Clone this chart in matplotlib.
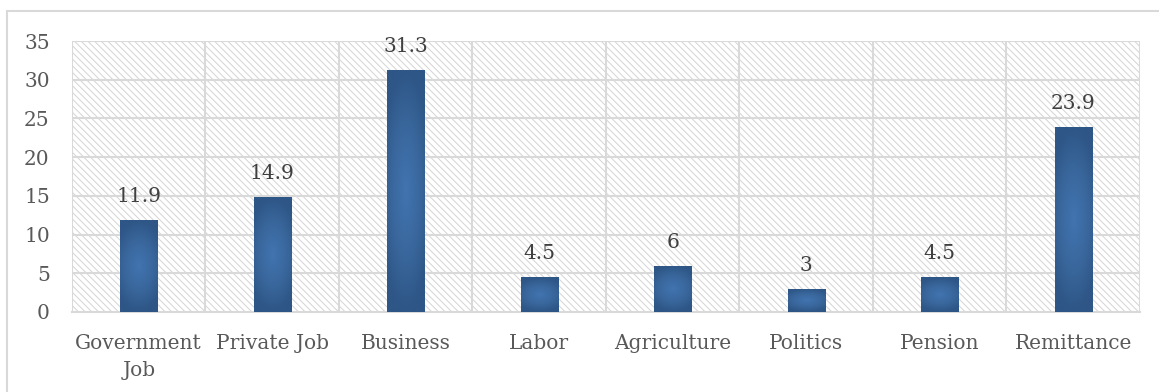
import matplotlib.pyplot as plt
import matplotlib.patches as mpatches
from matplotlib.colors import LinearSegmentedColormap
import numpy as np

# Source of income shares (%)
categories = ['Government\nJob', 'Private Job', 'Business', 'Labor',
              'Agriculture', 'Politics', 'Pension', 'Remittance']
values = [11.9, 14.9, 31.3, 4.5, 6, 3, 4.5, 23.9]
value_labels = ['11.9', '14.9', '31.3', '4.5', '6', '3', '4.5', '23.9']

plt.rcParams['font.family'] = 'DejaVu Serif'
plt.rcParams['hatch.color'] = '#d4d4d4'
plt.rcParams['hatch.linewidth'] = 0.7

fig = plt.figure(figsize=(11.59, 3.92), dpi=100)
ax = fig.add_axes([0.0621, 0.2041, 0.9215, 0.6913])

# Outer chart border
fig.patches.append(mpatches.Rectangle((7 / 1159, -0.05), 1.1, 1 - 11 / 392 + 0.05,
                                      transform=fig.transFigure, fill=False,
                                      edgecolor='#d9d9d9', linewidth=1.5))

# Hatched plot background
ax.set_facecolor('white')
ax.add_patch(mpatches.Rectangle((0, 0), 1, 1, transform=ax.transAxes,
                                facecolor='white', hatch='\\\\\\\\\\',
                                edgecolor='#d4d4d4', linewidth=0, zorder=0))

# Radial shading for the bars
cmap = LinearSegmentedColormap.from_list('barshade', ['#4274b0', '#3a689e', '#2e5686'])
gy, gx = np.mgrid[-1:1:120j, -1:1:120j]
shade = np.clip(np.sqrt(gx ** 2 * 0.5 + gy ** 2), 0, 1)

x = np.arange(len(categories))
width = 0.28
bars = ax.bar(x, values, width=width, color='#3a679c', zorder=2)
for bar in bars:
    x0, y0 = bar.get_x(), bar.get_y()
    w, h = bar.get_width(), bar.get_height()
    im = ax.imshow(shade, cmap=cmap, extent=(x0, x0 + w, y0, y0 + h),
                   aspect='auto', origin='lower', zorder=3, vmin=0, vmax=1)
    im.set_clip_path(bar)

for xi, v, lab in zip(x, values, value_labels):
    ax.annotate(lab, (xi, v), xytext=(0, 10), textcoords='offset points',
                ha='center', va='bottom', fontsize=14.5, color='#404040', zorder=4)

# Grid lines
for yv in range(5, 40, 5):
    ax.axhline(yv, color='#d9d9d9', linewidth=1.5, zorder=1)
for xv in np.arange(-0.5, len(categories), 1):
    ax.axvline(xv, color='#d9d9d9', linewidth=1.5, zorder=1)

ax.set_xlim(-0.5, len(categories) - 0.5)
ax.set_ylim(0, 35)
ax.set_yticks(range(0, 40, 5))
ax.set_xticks(x)
ax.set_xticklabels(categories, fontsize=14.5, color='#595959', linespacing=1.5)
ax.tick_params(axis='y', labelsize=14.5, labelcolor='#595959', length=0, pad=16)
ax.tick_params(axis='x', length=0, pad=16)

for side in ['top', 'right', 'left']:
    ax.spines[side].set_visible(False)
ax.spines['bottom'].set_color('#d9d9d9')
ax.spines['bottom'].set_linewidth(1.5)

fig.savefig('out.png', dpi=100)
